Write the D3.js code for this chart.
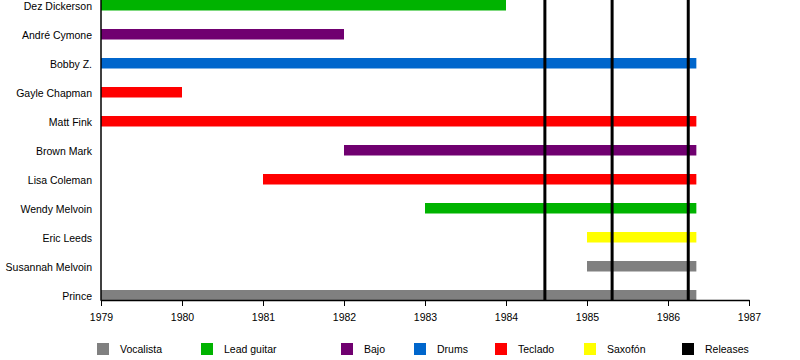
<!DOCTYPE html>
<html><head><meta charset="utf-8">
<script src="https://cdn.jsdelivr.net/npm/d3@7"></script>
<style>body{margin:0;background:#fff}svg{display:block;font-family:"Liberation Sans",Arial,sans-serif}</style>
</head><body><svg id="c" width="800" height="360"></svg>
<script>
const members = ["Dez Dickerson","André Cymone","Bobby Z.","Gayle Chapman","Matt Fink","Brown Mark","Lisa Coleman","Wendy Melvoin","Eric Leeds","Susannah Melvoin","Prince"];
const roles = ["Lead guitar","Bajo","Drums","Teclado","Teclado","Bajo","Teclado","Lead guitar","Saxofón","Vocalista","Vocalista"];
const starts = [1979,1979,1979,1979,1979,1982,1981,1983,1985,1985,1979];
const ends = [1984,1982,1986.35,1980,1986.35,1986.35,1986.35,1986.35,1986.35,1986.35,1986.35];
const releases = [1984.48,1985.31,1986.25];
const yearTicks = [1979,1980,1981,1982,1983,1984,1985,1986,1987];
const legendLabels = ["Vocalista","Lead guitar","Bajo","Drums","Teclado","Saxofón","Releases"];
const legendColors = ["#808080","#00b300","#700070","#0066cc","#ff0000","#ffff00","#000000"];
const legendX = [97,201,341,414,495,584,682];

const color = d3.scaleOrdinal().domain(legendLabels).range(legendColors);
const svg = d3.select("#c");
const x = d3.scaleLinear().domain([1979,1987]).range([101,749]);
const y = d3.scalePoint().domain(members).range([5.25,295.25]);
const bh = 10.5;

svg.append("g").selectAll("rect").data(members).join("rect")
  .attr("x",(d,i)=>x(starts[i])).attr("width",(d,i)=>x(ends[i])-x(starts[i]))
  .attr("y",d=>y(d)-bh/2).attr("height",bh)
  .attr("fill",(d,i)=>color(roles[i]));

svg.append("g").selectAll("line").data(releases).join("line")
  .attr("x1",d=>x(d)).attr("x2",d=>x(d)).attr("y1",0).attr("y2",300)
  .attr("stroke","#000").attr("stroke-width",3);

svg.append("g").selectAll("text").data(members).join("text")
  .attr("x",92).attr("y",d=>y(d)+0.8).attr("dy","0.35em").attr("text-anchor","end")
  .attr("font-size",10.5).attr("fill","#000").text(d=>d);

const ax = svg.append("g").attr("transform","translate(0,300)")
  .call(d3.axisBottom(x).tickValues(yearTicks).tickFormat(d3.format("d")).tickSize(6).tickSizeOuter(0));
ax.select(".domain").attr("stroke","#000").attr("stroke-width",1.5);
ax.selectAll(".tick line").attr("stroke","#000").attr("stroke-width",1);
ax.selectAll(".tick text").attr("font-size",10.5).attr("font-family","Liberation Sans, Arial, sans-serif").attr("fill","#000").attr("dy","1.1em");

svg.append("line").attr("x1",x(1979)).attr("x2",x(1979)).attr("y1",0).attr("y2",300.75)
  .attr("stroke","#000").attr("stroke-width",1.5);

const lg = svg.append("g").selectAll("g").data(legendLabels).join("g")
  .attr("transform",(d,i)=>`translate(${legendX[i]},343)`);
lg.append("rect").attr("width",12).attr("height",12).attr("fill",d=>color(d));
lg.append("text").attr("x",23).attr("y",6.5).attr("dy","0.35em").attr("font-size",10.5).attr("fill","#000").text(d=>d);
</script></body></html>
